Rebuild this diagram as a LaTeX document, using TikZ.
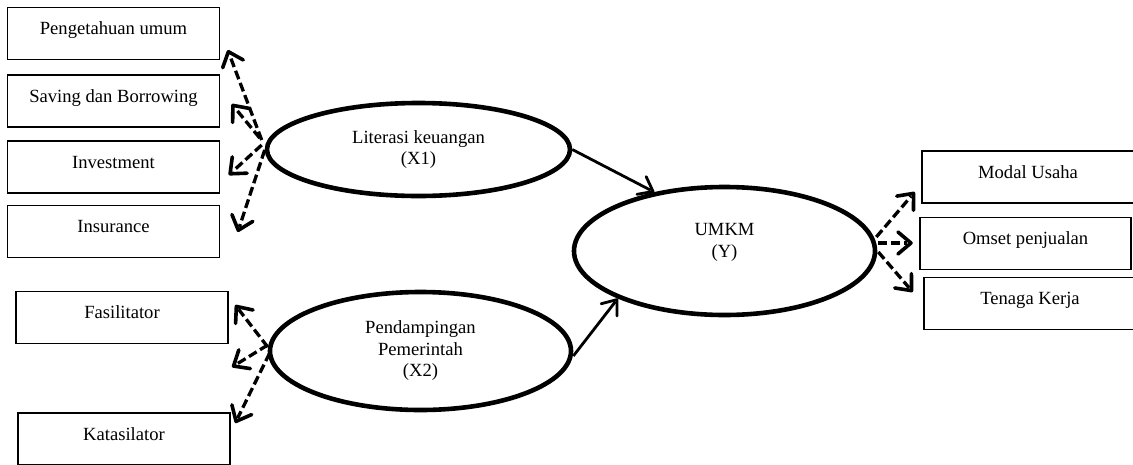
\documentclass[tikz,border=0pt]{standalone}
\usepackage{fontspec}
\setmainfont{Liberation Serif}
\usetikzlibrary{shapes.geometric,arrows.meta}
\pgfdeclarearrow{
  name = Chev,
  parameters = {\the\pgfarrowlength,\the\pgfarrowwidth,\the\pgfarrowlinewidth},
  setup code = {
    \pgfarrowssettipend{.5\pgfarrowlinewidth}
    \pgfarrowssetlineend{-\pgfarrowlinewidth}
    \pgfarrowssavethe\pgfarrowlinewidth
    \pgfarrowssavethe\pgfarrowlength
    \pgfarrowssavethe\pgfarrowwidth
    \pgfarrowshullpoint{.5\pgfarrowlinewidth}{0pt}
    \pgfarrowsupperhullpoint{-\pgfarrowlength}{.5\pgfarrowwidth}
  },
  drawing code = {
    \pgfsetdash{}{0pt}
    \pgfsetlinewidth{\pgfarrowlinewidth}
    \pgfsetroundcap
    \pgfsetroundjoin
    \pgfpathmoveto{\pgfqpoint{-\pgfarrowlength}{.5\pgfarrowwidth}}
    \pgfpathlineto{\pgfqpoint{0pt}{0pt}}
    \pgfpathlineto{\pgfqpoint{-\pgfarrowlength}{-.5\pgfarrowwidth}}
    \pgfusepathqstroke
  },
  defaults = {length=12pt, width=20pt}
}
\begin{document}
\begin{tikzpicture}[x=1pt,y=-1pt,
  every node/.style={font=\fontsize{18.6}{21.5}\selectfont},
  box/.style={draw, line width=1.5pt, minimum width=212pt, minimum height=52pt,
    inner sep=0pt, text height=12pt, text depth=10pt},
  latent/.style={draw, ellipse, line width=4.6pt, inner sep=0pt, align=center},
  dasharrow/.style={line width=3.3pt, dash pattern=on 9pt off 4pt,
    -{Chev[length=13pt,width=22pt,line width=3.6pt]}},
  patharrow/.style={line width=2.8pt,
    -{Chev[length=13pt,width=20pt,line width=2.8pt]}}]
\useasboundingbox (0,0) rectangle (1133,464);
\fill[white] (0,0) rectangle (1133,464);

% indicator boxes (left)
\node[box] (P1) at (113.5,33.5) {Pengetahuan umum};
\node[box] (P2) at (113.5,101) {Saving dan Borrowing};
\node[box] (P3) at (113.5,167) {Investment};
\node[box] (P4) at (113.5,231.5) {Insurance};
\node[box] (F) at (122,317.5) {Fasilitator};
\node[box] (K) at (124,439) {Katasilator};

% indicator boxes (right)
\node[box] (M) at (1028,177) {Modal Usaha};
\node[box, minimum width=211pt] (O) at (1025.5,243.5) {Omset penjualan};
\node[box] (T) at (1030,303.5) {Tenaga Kerja};

% latent variables
\node[latent, minimum width=303pt, minimum height=93pt] (X1) at (418.5,149.5)
  {Literasi keuangan\\(X1)};
\node[latent, minimum width=301pt, minimum height=118pt] (X2) at (420.5,351)
  {Pendampingan\\Pemerintah\\(X2)};
\node[latent, minimum width=301pt, minimum height=128pt] (Y) at (724.5,251)
  {UMKM\\(Y)\\\mbox{}};

% structural paths
\draw[patharrow] (X1.east) -- (Y.140);
\draw[patharrow] ([yshift=-5]X2.east) -- (Y.204);

% X1 indicators
\draw[dasharrow] ([shift={(-3,-9.5)}]X1.west) -- ([shift={(7.5,16.5)}]P1.east);
\draw[dasharrow] ([shift={(-5,-11.5)}]X1.west) -- ([shift={(11.5,3)}]P2.east);
\draw[dasharrow] ([shift={(-3,-4.5)}]X1.west) -- ([shift={(8.5,8)}]P3.east);
\draw[dasharrow] ([shift={(0,0.5)}]X1.west) -- ([shift={(17.5,0.5)}]P4.east);

% X2 indicators
\coordinate (gap) at (232,367);
\draw[dasharrow] ([shift={(0,-4)}]X2.west) -- ([shift={(6.5,-12.5)}]F.east);
\draw[dasharrow] ([shift={(0,-6)}]X2.west) -- (gap);
\draw[dasharrow] ([shift={(2,2)}]X2.west) -- ([shift={(4.5,-16)}]K.east);

% Y indicators
\draw[dasharrow] ([shift={(-1,-14)}]Y.east) -- ([shift={(-6.5,15)}]M.west);
\draw[dasharrow] ([shift={(1,-8)}]Y.east) -- ([shift={(-6.5,-0.5)}]O.west);
\draw[dasharrow] ([shift={(1,1)}]Y.east) -- ([shift={(-10.5,-11.5)}]T.west);
\end{tikzpicture}
\end{document}
